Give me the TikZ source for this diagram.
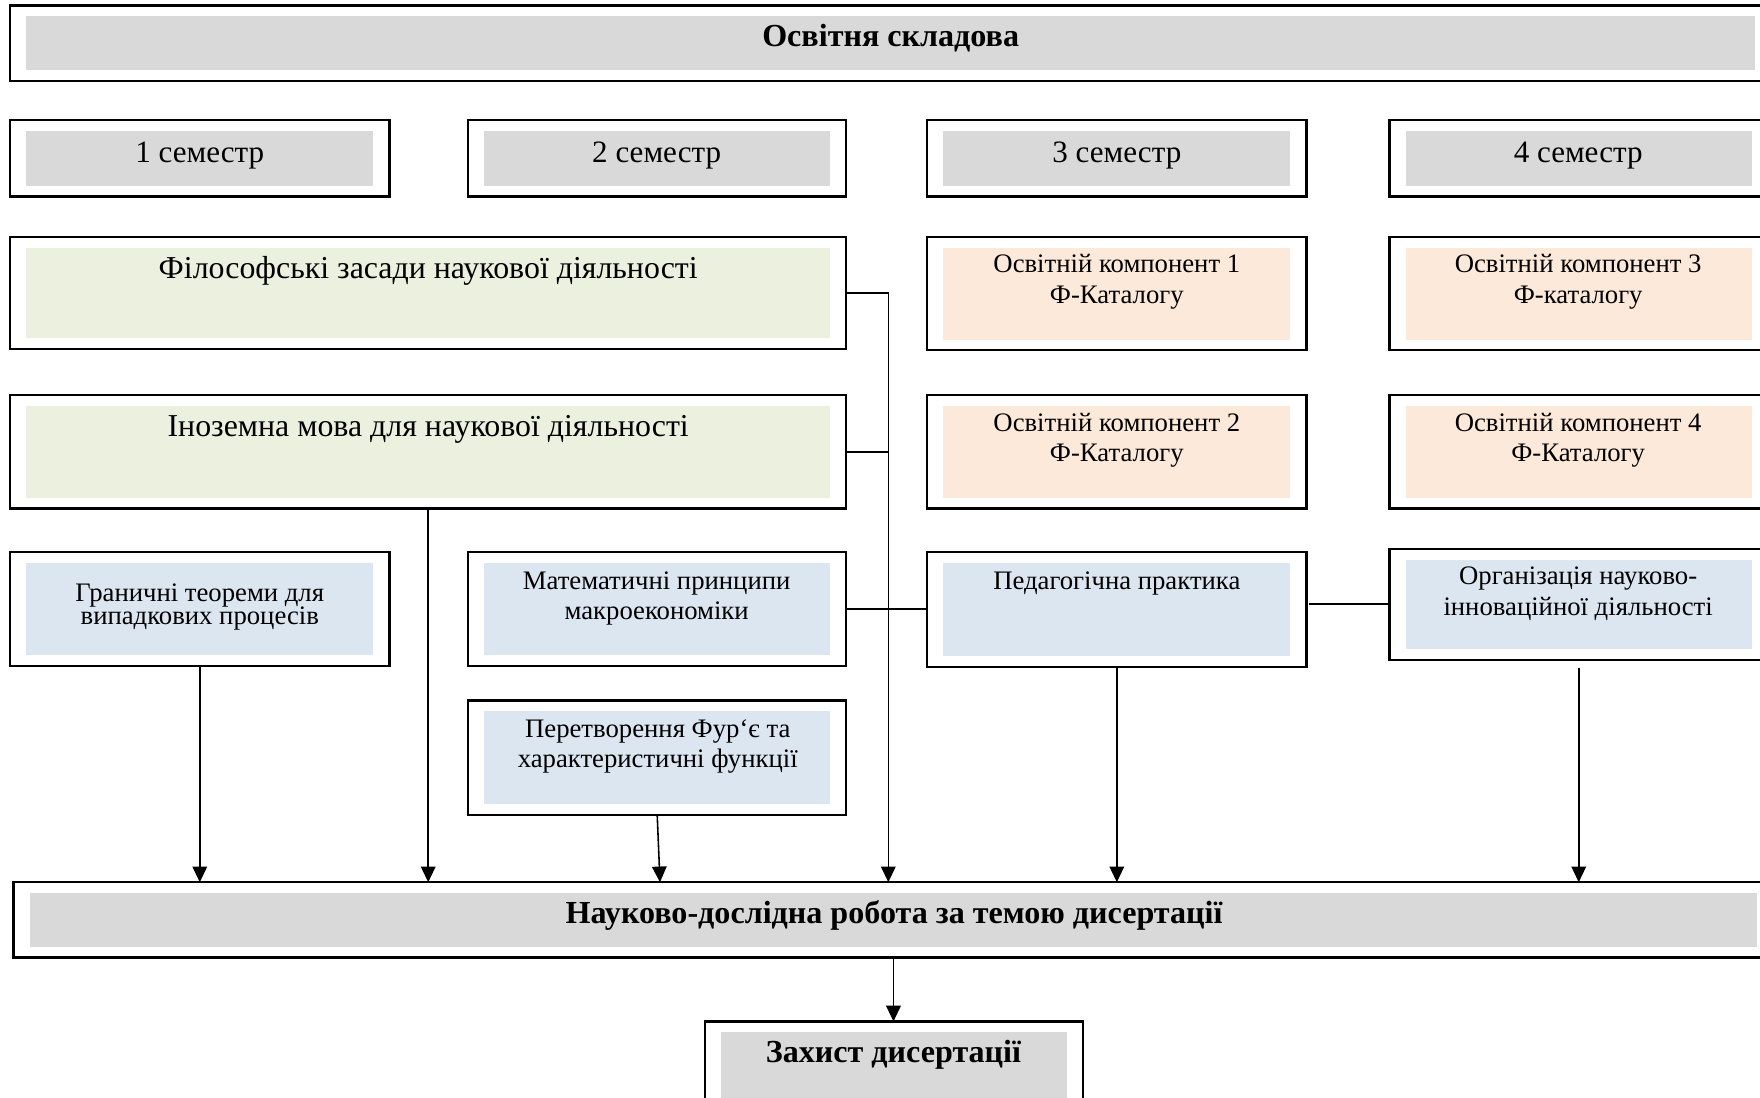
\documentclass[tikz,border=0pt]{standalone}
\usepackage{fontspec}
\setmainfont{Liberation Serif}
\usetikzlibrary{arrows.meta,calc}
\definecolor{cgray}{HTML}{D9D9D9}
\definecolor{cgreen}{HTML}{EBF1DE}
\definecolor{cpeach}{HTML}{FDE9D9}
\definecolor{cblue}{HTML}{DCE6F1}
\newcommand\obx[6]{%
  \node[obox, minimum width={(#4-#2)*1pt}, minimum height={(#5-#3)*1pt}] (#1) at ({(#2+#4)/2},{(#3+#5)/2}) {};
  \fill[#6] ({#2+14.5},{#3+9.5}) rectangle ({#4-14.5},{#5-9.5});}
\begin{document}
\begin{tikzpicture}[x=1pt,y=-1pt,
  obox/.style={draw=black, line width=2pt, fill=white, rectangle, inner sep=0pt, outer sep=0pt},
  conn/.style={line width=1.4pt, draw=black},
  arr/.style={conn, -{Triangle[length=14pt,width=13pt]}},
  big/.style={font=\fontsize{28.4}{30}\selectfont, anchor=base, inner sep=0pt},
  sem/.style={font=\fontsize{27.7}{30}\selectfont, anchor=base, inner sep=0pt},
  small/.style={font=\fontsize{23.8}{27}\selectfont, anchor=base, inner sep=0pt},
  bigb/.style={font=\fontsize{28.6}{30}\selectfont\bfseries, anchor=base, inner sep=0pt}]
\useasboundingbox (0,0) rectangle (1568,977.4);
\clip (0,0) rectangle (1568,977.4);
% boxes
\obx{top}{9}{5}{1578}{72}{cgray}
\obx{sem1}{9}{107}{347}{175}{cgray}
\obx{sem2}{417}{107}{754}{175}{cgray}
\obx{sem3}{826}{107}{1164}{175}{cgray}
\obx{sem4}{1238}{107}{1575}{175}{cgray}
\obx{fil}{9}{211}{754}{311}{cgreen}
\obx{okA}{826}{211}{1164}{312}{cpeach}
\obx{okC}{1238}{211}{1575}{312}{cpeach}
\obx{ino}{9}{352}{754}{453}{cgreen}
\obx{okB}{826}{352}{1164}{453}{cpeach}
\obx{okD}{1238}{352}{1575}{453}{cpeach}
\obx{gran}{9}{492}{347}{593}{cblue}
\obx{mat}{417}{492}{754}{593}{cblue}
\obx{ped}{826}{492}{1164}{594}{cblue}
\obx{org}{1238}{489}{1575}{588}{cblue}
\obx{per}{417}{624}{754}{726}{cblue}
\obx{nauk}{12}{786}{1580}{853}{cgray}
\obx{zah}{628}{910}{965}{990}{cgray}
% texts
\node[bigb] (t0) at (793.5,41.3) {Освітня складова};
\node[sem] (s1t) at (178,144.4) {1 семестр};
\node[sem] (s2t) at (585,144.4) {2 семестр};
\node[sem] (s3t) at (995,144.4) {3 семестр};
\node[sem] (s4t) at (1406,144.4) {4 семестр};
\node[big] (filt) at (381.5,247.8) {Філософські засади наукової діяльності};
\node[big] (inot) at (381.5,389) {Іноземна мова для наукової діяльності};
\node[small] (okAa) at (995,243) {Освітній компонент 1};
\node[small] (okAb) at (995,270) {Ф-Каталогу};
\node[small] (okCa) at (1406,243) {Освітній компонент 3};
\node[small] (okCb) at (1406,270) {Ф-каталогу};
\node[small] (okBa) at (995,384) {Освітній компонент 2};
\node[small] (okBb) at (995,411) {Ф-Каталогу};
\node[small] (okDa) at (1406,384) {Освітній компонент 4};
\node[small] (okDb) at (1406,411) {Ф-Каталогу};
\node[small] (grana) at (178,536.2) {Граничні теореми для};
\node[small] (granb) at (178,556.2) {випадкових процесів};
\node[small] (mata) at (585,524.8) {Математичні принципи};
\node[small] (matb) at (585,552.3) {макроекономіки};
\node[small] (pedt) at (995,524.8) {Педагогічна практика};
\node[small] (orga) at (1406,521) {Організація науково-};
\node[small] (orgb) at (1406,548.2) {інноваційної діяльності};
\node[small] (pera) at (586,657) {Перетворення Фур‘є та};
\node[small] (perb) at (586,683.6) {характеристичні функції};
\node[bigb] (naukt) at (796.5,822.3) {Науково-дослідна робота за темою дисертації};
\node[bigb] (zaht) at (796,946.7) {Захист дисертації};
% connectors
\coordinate (j) at (791.4,261.3);
\draw[arr] (fil.east) -| (j |- nauk.north);
\draw[conn] (ino.east) -- (ino.east -| j);
\draw[arr] (ino.south) -- (ino.south |- nauk.north);
\draw[arr] (gran.south) -- (gran.south |- nauk.north);
\draw[arr] (per.south) -- ([xshift=2.5pt]per.south |- nauk.north);
\draw[conn] (mat.east) -- (mat.east -| ped.west);
\draw[arr] (ped.south) -- (ped.south |- nauk.north);
\draw[conn, line width=1.8pt] ([xshift=2pt]org.west -| ped.east) -- (org.west);
\draw[arr] ([yshift=-7pt]org.south) -- (org.south |- nauk.north);
\draw[arr] (nauk.south) -- (nauk.south |- zah.north);
\end{tikzpicture}
\end{document}
